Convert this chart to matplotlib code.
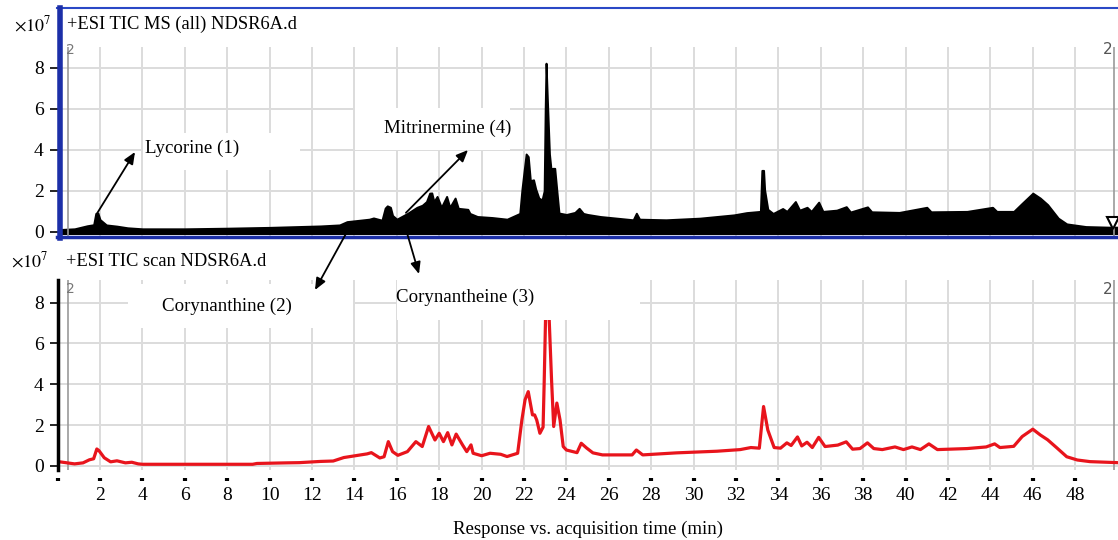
import matplotlib
matplotlib.use("Agg")
import matplotlib.pyplot as plt
from matplotlib.patches import Rectangle, ConnectionPatch
from matplotlib.lines import Line2D

plt.rcParams["font.family"] = ["Liberation Serif", "DejaVu Serif"]
plt.rcParams["mathtext.fontset"] = "stix"

# +ESI TIC MS (all) -- black filled trace (x10^7)
ms_time = [0.2, 0.8, 1.4, 1.7, 1.8, 1.9, 2.0, 2.3, 2.8, 3.3, 4.0, 6.0, 8.0, 10.0,
           12.4, 13.3, 13.65, 14.7, 14.9, 15.3, 15.45, 15.55, 15.7, 15.8, 16.0,
           16.5, 16.95, 17.2, 17.4, 17.55, 17.65, 17.75, 17.9, 18.1, 18.35, 18.5,
           18.75, 18.9, 19.35, 19.45, 19.8, 20.5, 21.2, 21.8, 21.9, 22.0, 22.1,
           22.2, 22.3, 22.45, 22.55, 22.7, 22.85, 22.95, 23.0, 23.04, 23.1, 23.2,
           23.28, 23.35, 23.45, 23.55, 23.65, 24.0, 24.4, 24.6, 24.8, 25.0, 25.6,
           27.15, 27.3, 27.45, 28.7, 30.3, 31.9, 32.5, 33.15, 33.22, 33.3, 33.35,
           33.5, 33.75, 34.2, 34.4, 34.8, 35.0, 35.35, 35.55, 35.9, 36.1, 36.75,
           37.2, 37.4, 38.2, 38.4, 39.7, 41.0, 41.2, 42.9, 44.1, 44.3, 45.1, 45.5,
           46.0, 46.35, 46.7, 47.2, 47.6, 48.5, 49.6, 50.0]
ms_signal = [0.12, 0.15, 0.3, 0.35, 0.9, 0.92, 0.6, 0.34, 0.28, 0.2, 0.15, 0.15,
             0.18, 0.22, 0.29, 0.34, 0.5, 0.62, 0.68, 0.57, 1.16, 1.27, 1.2, 0.8,
             0.62, 0.9, 1.2, 1.3, 1.48, 1.89, 1.9, 1.48, 1.73, 1.2, 1.73, 1.2,
             1.65, 1.15, 1.1, 0.9, 0.75, 0.7, 0.62, 0.9, 2.05, 2.94, 3.8, 3.67,
             2.5, 2.54, 2.1, 1.65, 1.56, 2.0, 6.0, 8.23, 6.5, 3.8, 3.0, 3.1, 3.1,
             2.0, 0.92, 0.85, 0.95, 1.15, 0.9, 0.85, 0.75, 0.59, 0.91, 0.62, 0.59,
             0.67, 0.83, 0.94, 1.0, 3.0, 3.0, 2.05, 1.1, 0.9, 1.14, 1.0, 1.48,
             1.06, 1.2, 1.0, 1.45, 1.0, 1.06, 1.23, 0.97, 1.22, 0.98, 0.95, 1.2,
             0.98, 1.0, 1.2, 1.0, 1.0, 1.4, 1.89, 1.65, 1.33, 0.67, 0.39, 0.26,
             0.23, 0.23]

# +ESI TIC scan -- red trace (x10^7)
scan_time = [0.1, 0.45, 0.8, 1.2, 1.5, 1.7, 1.85, 1.95, 2.2, 2.5, 2.8, 3.2, 3.5,
             3.8, 4.0, 9.2, 9.4, 10.8, 11.4, 12.4, 13.0, 13.5, 14.6, 14.8, 15.2,
             15.4, 15.6, 15.8, 16.05, 16.5, 16.9, 17.2, 17.5, 17.8, 18.0, 18.2,
             18.4, 18.6, 18.8, 19.1, 19.3, 19.5, 19.6, 20.0, 20.4, 20.9, 21.2,
             21.7, 21.9, 22.05, 22.2, 22.4, 22.5, 22.6, 22.75, 22.9, 22.95, 23.02,
             23.1, 23.18, 23.3, 23.4, 23.55, 23.7, 23.85, 24.0, 24.5, 24.7, 24.95,
             25.25, 25.7, 27.1, 27.3, 27.6, 29.2, 31.1, 32.2, 32.7, 33.1, 33.3,
             33.5, 33.8, 34.1, 34.4, 34.6, 34.9, 35.1, 35.35, 35.6, 35.9, 36.2,
             36.8, 37.2, 37.5, 37.85, 38.2, 38.5, 38.9, 39.5, 39.9, 40.3, 40.7,
             41.1, 41.5, 42.9, 43.8, 44.2, 44.45, 45.1, 45.5, 46.0, 46.35, 46.7,
             47.15, 47.6, 48.1, 48.7, 50.0]
scan_signal = [0.2, 0.15, 0.1, 0.15, 0.3, 0.35, 0.83, 0.75, 0.4, 0.2, 0.25, 0.15,
               0.18, 0.1, 0.08, 0.08, 0.12, 0.15, 0.16, 0.22, 0.24, 0.41, 0.59,
               0.65, 0.39, 0.45, 1.19, 0.70, 0.52, 0.70, 1.19, 0.95, 1.93, 1.27,
               1.60, 1.19, 1.63, 1.03, 1.56, 1.03, 0.70, 1.03, 0.62, 0.50, 0.62,
               0.57, 0.46, 0.62, 2.25, 3.24, 3.64, 2.5, 2.5, 2.25, 1.6, 1.9, 4.0,
               7.4, 8.5, 7.4, 4.2, 1.93, 3.08, 2.25, 0.95, 0.78, 0.65, 1.11, 0.88,
               0.64, 0.54, 0.54, 0.78, 0.54, 0.64, 0.72, 0.8, 0.9, 0.87, 2.91, 1.76,
               0.9, 0.87, 1.13, 1.0, 1.42, 0.98, 1.16, 0.9, 1.4, 0.95, 1.02, 1.18,
               0.82, 0.85, 1.13, 0.85, 0.8, 0.93, 0.8, 0.93, 0.8, 1.08, 0.8, 0.85,
               0.93, 1.08, 0.9, 0.96, 1.44, 1.8, 1.52, 1.28, 0.87, 0.45, 0.29, 0.21,
               0.16]

y_ticks = [0, 2, 4, 6, 8]
x_ticks = list(range(0, 50, 2))
x_ticklabels = [""] + [str(t) for t in x_ticks[1:]]

# compound labels: name, peak (time, signal) in the top trace
compounds = ["Lycorine (1)", "Mitrinermine (4)", "Corynanthine (2)", "Corynantheine (3)"]
peak_time = [1.86, 16.43, 13.65, 16.48]
peak_signal = [0.9, 0.93, 0.0, -0.05]
end_marker_time = [49.8]
end_marker_signal = [0.45]

W, H = 1118, 540


def px(x, y):
    return (x / W, 1 - y / H)


fig = plt.figure(figsize=(W / 100, H / 100), dpi=100)
ax_top = fig.add_axes([57.6 / W, 1 - 237 / H, 1060 / W, 190 / H])
ax_bot = fig.add_axes([57.6 / W, 1 - 470 / H, 1060 / W, 190 / H])

grid_c = "#dcdcdc"
for ax in (ax_top, ax_bot):
    ax.set_xlim(0, 50)
    ax.set_xticks(x_ticks)
    ax.set_yticks(y_ticks)
    ax.grid(True, color=grid_c, linewidth=1.4)
    ax.set_axisbelow(True)
    ax.patch.set_alpha(0)
    for s in ("top", "right", "bottom"):
        ax.spines[s].set_visible(False)
    ax.tick_params(axis="y", length=6, width=1.2, labelsize=14, pad=4)
    # gray cursor lines
    ax.axvline(0.5, color="#999999", linewidth=1.2)
    ax.axvline(49.85, color="#999999", linewidth=1.2)

ax_top.set_ylim(-0.25, 9.02)
ax_bot.set_ylim(-0.2, 9.11)

# top trace
ax_top.fill_between(ms_time, -0.08, ms_signal, color="black", linewidth=1.4, edgecolor="black")
ax_top.plot(end_marker_time, end_marker_signal, marker="v", markersize=9,
            markerfacecolor="white", markeredgecolor="black", markeredgewidth=1.5, linestyle="none")
ax_top.tick_params(axis="x", length=0, labelbottom=False)
ax_top.spines["left"].set_visible(False)

# bottom trace
ax_bot.plot(scan_time, scan_signal, color="#e8141c", linewidth=2.3)
ax_bot.spines["left"].set_linewidth(2.5)
ax_bot.spines["bottom"].set_position(("outward", 6))
ax_bot.set_xticklabels(x_ticklabels)
ax_bot.tick_params(axis="x", length=2, width=3, labelsize=14, pad=4)
ax_bot.set_xlabel("Response vs. acquisition time (min)", fontsize=13.5, labelpad=12)

# blue frame around the top panel
blue = "#2a48c6"
fig.add_artist(Line2D([57 / W, 1118 / W], [1 - 8 / H, 1 - 8 / H], color=blue, linewidth=1.5, transform=fig.transFigure))
fig.add_artist(Line2D([59.5 / W, 59.5 / W], [1 - 8 / H, 1 - 238 / H], color="#1c2fa8", linewidth=4, transform=fig.transFigure))
fig.add_artist(Line2D([57 / W, 1118 / W], [1 - 237 / H, 1 - 237 / H], color="#1c2fa8", linewidth=2.5, transform=fig.transFigure))

# header texts
fig.text(*px(14, 25), r"$\times10^7$", fontsize=13, va="center")
fig.text(*px(67, 24), "+ESI TIC MS (all) NDSR6A.d", fontsize=13.3, va="center")
fig.text(*px(11, 261), r"$\times10^7$", fontsize=13, va="center")
fig.text(*px(66, 261), "+ESI TIC scan NDSR6A.d", fontsize=13.3, va="center")

# cursor labels
for yy in (50, 289):
    fig.text(*px(66, yy), "2", fontsize=10, color="#777777", family="DejaVu Sans", va="center")
    fig.text(*px(1103, yy), "2", fontsize=11, color="#555555", family="DejaVu Sans", va="center")

# white label boxes, texts and arrows
boxes = [(143, 133, 300, 170), (355, 108, 510, 150), (128, 284, 353, 328), (397, 280, 640, 320)]
text_pos = [(192, 148), (448, 128), (227, 306), (465, 297)]
arrow_tip = [(135, 152), (468, 150), (315, 290), (419, 274)]
for name, box, tp, tip, pt, ps in zip(compounds, boxes, text_pos, arrow_tip, peak_time, peak_signal):
    x0, y0, x1, y1 = box
    fig.add_artist(Rectangle(px(x0, y1), (x1 - x0) / W, (y1 - y0) / H, transform=fig.transFigure,
                             facecolor="white", edgecolor="none", zorder=4))
    fig.text(*px(*tp), name, fontsize=13.6, ha="center", va="center", zorder=6)
    con = ConnectionPatch(xyA=(pt, ps), coordsA=ax_top.transData, xyB=px(*tip), coordsB=fig.transFigure,
                          arrowstyle="-|>,head_length=0.7,head_width=0.3", color="black", linewidth=1.3,
                          shrinkA=0, shrinkB=0, zorder=5)
    fig.add_artist(con)

fig.savefig("out.png", dpi=100)
